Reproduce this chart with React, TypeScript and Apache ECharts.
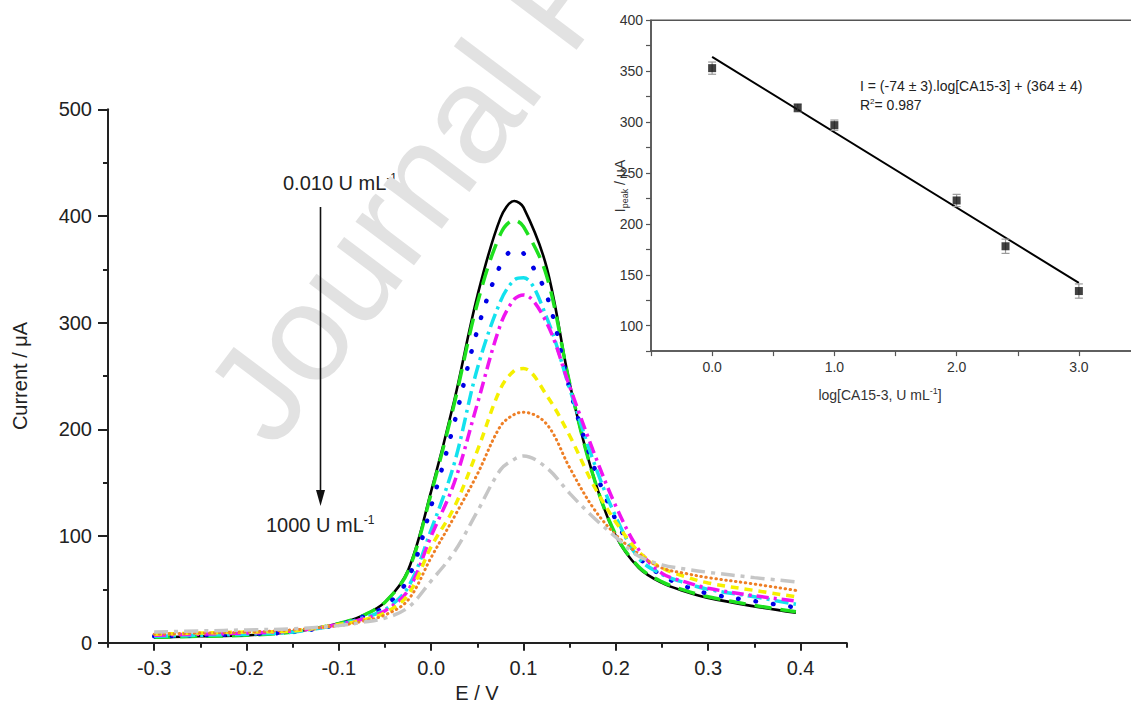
import React, { useEffect, useRef } from "react";
import * as echarts from "echarts";

const FONT = '"Liberation Sans", Arial, Helvetica, sans-serif';

// ---- main chart data (E / V vs current / µA) ----
const potentials = [-0.3, -0.25, -0.2, -0.15, -0.1, -0.075, -0.05, -0.025, 0, 0.025, 0.05, 0.075, 0.09, 0.1, 0.125, 0.15, 0.175, 0.2, 0.225, 0.25, 0.275, 0.3, 0.35, 0.395];
const curveBlack   = [5, 6, 7, 10, 18, 25, 38, 68, 142, 227, 325, 398, 414, 408, 352, 243, 158, 100, 70, 56, 48, 42, 34, 28];
const curveGreen   = [5, 6, 7, 10, 18, 25, 38, 67, 140, 224, 318, 383, 396, 390, 344, 243, 158, 101, 71, 57, 49, 43, 35, 29];
const curveBlue    = [6, 7, 8, 10, 17, 24, 34, 60, 128, 206, 293, 354, 368, 365, 326, 238, 168, 115, 80, 63, 53, 46, 39, 33];
const curveCyan    = [6, 7, 8, 10, 17, 23, 31, 52, 106, 168, 257, 320, 340, 342, 305, 238, 172, 118, 79, 64, 56, 50, 43, 36];
const curveMagenta = [7, 8, 9, 11, 17, 22, 30, 49, 100, 150, 224, 298, 322, 326, 300, 240, 181, 128, 87, 65, 57, 51, 44, 39];
const curveYellow  = [8, 9, 10, 11, 17, 21, 28, 45, 90, 127, 180, 238, 255, 257, 232, 194, 149, 113, 85, 70, 62, 56, 49, 43];
const curveOrange  = [8, 9, 10, 12, 16, 20, 26, 40, 80, 118, 158, 203, 214, 216, 205, 164, 127, 101, 83, 70, 65, 61, 55, 49];
const curveGray    = [10, 11, 12, 13, 16, 19, 23, 33, 58, 85, 123, 162, 172, 175, 164, 140, 118, 99, 81, 73, 69, 66, 61, 57];

const xMajorTicks = [-0.3, -0.2, -0.1, 0, 0.1, 0.2, 0.3, 0.4];
const xMinorTicks = [-0.35, -0.25, -0.15, -0.05, 0.05, 0.15, 0.25, 0.35, 0.45];

// ---- inset data ----
const concLog = [0, 0.7, 1.0, 2.0, 2.4, 3.0];
const peakCurrent = [353, 314, 297, 223, 178, 134];
const peakError = [6, 4, 5, 6, 7, 7];
const fitX = [0, 3];
const fitY = [364, 142];

const curves = [curveBlack, curveGreen, curveBlue, curveCyan, curveMagenta, curveYellow, curveOrange, curveGray];
const curveStyles = [
  { color: "#000000", width: 2.6, type: "solid" as any, cap: "butt" },
  { color: "#1ee01e", width: 3.5, type: [17, 9], cap: "butt" },
  { color: "#0000e6", width: 4.5, type: [0.5, 17], cap: "round" },
  { color: "#12e2ee", width: 3.5, type: [14, 5, 3, 5], cap: "butt" },
  { color: "#f014f0", width: 3.5, type: [12, 5, 3, 5], cap: "butt" },
  { color: "#f5f000", width: 3.5, type: [8, 6], cap: "butt" },
  { color: "#ee7f26", width: 3, type: [0.5, 4.5], cap: "round" },
  { color: "#c6c6c6", width: 3.5, type: [14, 6, 4, 6], cap: "butt" },
];

export default function App() {
  const mainRef = useRef<HTMLDivElement>(null);
  const insetRef = useRef<HTMLDivElement>(null);

  useEffect(() => {
    const main = echarts.init(mainRef.current!, null, { renderer: "svg" });
    const inset = echarts.init(insetRef.current!, null, { renderer: "svg" });
    const axisColor = "#222";
    const labelStyle = { fontFamily: FONT, fontSize: 20, color: "#222" };

    main.setOption({
      animation: false,
      grid: { left: 108, right: 284.3, top: 109.3, bottom: 62.3 },
      xAxis: [
        {
          type: "value",
          min: -0.35,
          max: 0.45,
          axisLine: { onZero: false, lineStyle: { color: axisColor, width: 2 } },
          axisTick: { customValues: xMajorTicks, length: 8, lineStyle: { color: axisColor, width: 2 } },
          axisLabel: { customValues: xMajorTicks, formatter: (v: number) => v.toFixed(1), margin: 15, ...labelStyle },
          splitLine: { show: false },
        },
        {
          type: "value",
          min: -0.35,
          max: 0.45,
          position: "bottom",
          axisLine: { show: false },
          axisTick: { customValues: xMinorTicks, length: 5, lineStyle: { color: axisColor, width: 2 } },
          axisLabel: { show: false },
          splitLine: { show: false },
        },
      ],
      yAxis: {
        type: "value",
        min: 0,
        max: 500,
        interval: 100,
        axisLine: { show: true, onZero: false, lineStyle: { color: axisColor, width: 2 } },
        axisTick: { show: true, length: 10, lineStyle: { color: axisColor, width: 2 } },
        minorTick: { show: true, splitNumber: 2, length: 5, lineStyle: { color: axisColor, width: 2 } },
        axisLabel: { margin: 16, ...labelStyle },
        splitLine: { show: false },
      },
      series: curves.map((vals, k) => ({
        type: "line",
        xAxisIndex: 0,
        showSymbol: false,
        symbol: "none",
        smooth: 0.35,
        z: 2 + k * 0.01,
        lineStyle: {
          color: curveStyles[k].color,
          width: curveStyles[k].width,
          type: curveStyles[k].type,
          cap: curveStyles[k].cap,
        },
        data: potentials.map((e, i) => [e, vals[i]]),
      })),
      graphic: [
        {
          type: "text",
          x: 236,
          y: 422,
          rotation: (53 * Math.PI) / 180,
          z: 1,
          silent: true,
          style: {
            text: "Journal Pre-proof",
            fontSize: 138,
            fontFamily: FONT,
            fill: "#e2e2e2",
            align: "left",
            verticalAlign: "middle",
          },
        },
        {
          type: "text",
          x: 283,
          y: 183,
          z: 0,
          style: {
            text: "{a|0.010 U mL}{s|-1}",
            rich: {
              a: { fontSize: 20, fontFamily: FONT, fill: "#222", lineHeight: 22 },
              s: { fontSize: 12, fontFamily: FONT, fill: "#222", verticalAlign: "top", lineHeight: 12 },
            },
            align: "left",
            verticalAlign: "middle",
          },
        },
        {
          type: "text",
          x: 266,
          y: 525,
          z: 3,
          style: {
            text: "{a|1000 U mL}{s|-1}",
            rich: {
              a: { fontSize: 20, fontFamily: FONT, fill: "#222", lineHeight: 22 },
              s: { fontSize: 12, fontFamily: FONT, fill: "#222", verticalAlign: "top", lineHeight: 12 },
            },
            align: "left",
            verticalAlign: "middle",
          },
        },
        {
          type: "line",
          z: 5,
          shape: { x1: 320.5, y1: 207, x2: 320.5, y2: 493 },
          style: { stroke: "#111", lineWidth: 1.6 },
        },
        {
          type: "polygon",
          z: 5,
          shape: { points: [[316, 490], [325, 490], [320.5, 506]] },
          style: { fill: "#111" },
        },
        {
          type: "text",
          x: 20,
          y: 376,
          rotation: Math.PI / 2,
          z: 3,
          style: { text: "Current / μA", fontSize: 20, fontFamily: FONT, fill: "#222", align: "center", verticalAlign: "middle" },
        },
        {
          type: "text",
          x: 477,
          y: 693,
          z: 3,
          style: { text: "E / V", fontSize: 20, fontFamily: FONT, fill: "#222", align: "center", verticalAlign: "middle" },
        },
      ],
    });

    const insetAxis = "#555";
    const insetLabel = { fontFamily: FONT, fontSize: 14, color: "#333" };
    inset.setOption({
      animation: false,
      grid: { left: 51, top: 20.3, width: 489, height: 330.8, show: true, borderColor: insetAxis, borderWidth: 1.5 },
      xAxis: {
        type: "value",
        min: -0.5,
        max: 3.5,
        interval: 0.5,
        axisLine: { onZero: false, lineStyle: { color: insetAxis, width: 1.5 } },
        axisTick: { length: 5, lineStyle: { color: insetAxis, width: 1.2 } },
        axisLabel: { formatter: (v: number) => (Number.isInteger(v) ? v.toFixed(1) : ""), margin: 9, ...insetLabel },
        splitLine: { show: false },
      },
      yAxis: {
        type: "value",
        min: 75,
        max: 400,
        interval: 25,
        axisLine: { show: true, onZero: false, lineStyle: { color: insetAxis, width: 1.5 } },
        axisTick: { show: true, length: 5, lineStyle: { color: insetAxis, width: 1.2 } },
        axisLabel: { formatter: (v: number) => (v % 50 === 0 ? String(v) : ""), margin: 8, ...insetLabel },
        splitLine: { show: false },
      },
      series: [
        {
          type: "line",
          symbol: "none",
          lineStyle: { color: "#000", width: 2 },
          z: 2,
          data: fitX.map((x, i) => [x, fitY[i]]),
        },
        {
          type: "custom",
          z: 3,
          renderItem: (_p: any, api: any) => {
            const x = api.value(0);
            const y = api.value(1);
            const e = api.value(2);
            const top = api.coord([x, y + e]);
            const bot = api.coord([x, y - e]);
            const cw = 4;
            const st = { stroke: "#9a9a9a", lineWidth: 1.2 };
            return {
              type: "group",
              children: [
                { type: "line", shape: { x1: top[0], y1: top[1], x2: bot[0], y2: bot[1] }, style: st },
                { type: "line", shape: { x1: top[0] - cw, y1: top[1], x2: top[0] + cw, y2: top[1] }, style: st },
                { type: "line", shape: { x1: bot[0] - cw, y1: bot[1], x2: bot[0] + cw, y2: bot[1] }, style: st },
              ],
            };
          },
          data: concLog.map((c, i) => [c, peakCurrent[i], peakError[i]]),
        },
        {
          type: "scatter",
          symbol: "rect",
          symbolSize: 8,
          itemStyle: { color: "#111" },
          z: 4,
          data: concLog.map((c, i) => [c, peakCurrent[i]]),
        },
      ],
      graphic: [
        {
          type: "text",
          x: 260,
          y: 86,
          style: {
            text: "I = (-74 ± 3).log[CA15-3] + (364 ± 4)",
            fontSize: 14,
            fontFamily: FONT,
            fill: "#222",
            align: "left",
            verticalAlign: "middle",
          },
        },
        {
          type: "text",
          x: 260,
          y: 105,
          style: {
            text: "{a|R}{s|2}{a|= 0.987}",
            rich: {
              a: { fontSize: 14, fontFamily: FONT, fill: "#222", lineHeight: 16 },
              s: { fontSize: 8, fontFamily: FONT, fill: "#222", verticalAlign: "top", lineHeight: 9 },
            },
            align: "left",
            verticalAlign: "middle",
          },
        },
        {
          type: "text",
          x: 20,
          y: 186,
          rotation: Math.PI / 2,
          style: {
            text: "{a|I}{b|peak}{a| / μA}",
            rich: {
              a: { fontSize: 14, fontFamily: FONT, fill: "#333", lineHeight: 18 },
              b: { fontSize: 9, fontFamily: FONT, fill: "#333", verticalAlign: "bottom", lineHeight: 10 },
            },
            align: "center",
            verticalAlign: "middle",
          },
        },
        {
          type: "text",
          x: 280,
          y: 395,
          style: {
            text: "{a|log[CA15-3, U mL}{s|-1}{a|]}",
            rich: {
              a: { fontSize: 14, fontFamily: FONT, fill: "#333", lineHeight: 17 },
              s: { fontSize: 9, fontFamily: FONT, fill: "#333", verticalAlign: "top", lineHeight: 9 },
            },
            align: "center",
            verticalAlign: "middle",
          },
        },
      ],
    });

    return () => {
      main.dispose();
      inset.dispose();
    };
  }, []);

  return (
    <div style={{ position: "fixed", left: 0, top: 0, width: 1131, height: 705, background: "#fff", overflow: "hidden" }}>
      <div ref={mainRef} style={{ position: "absolute", left: 0, top: 0, width: 1131, height: 705 }} />
      <div
        ref={insetRef}
        style={{ position: "absolute", left: 600, top: 0, width: 560, height: 410, background: "#fff", overflow: "hidden" }}
      />
    </div>
  );
}
